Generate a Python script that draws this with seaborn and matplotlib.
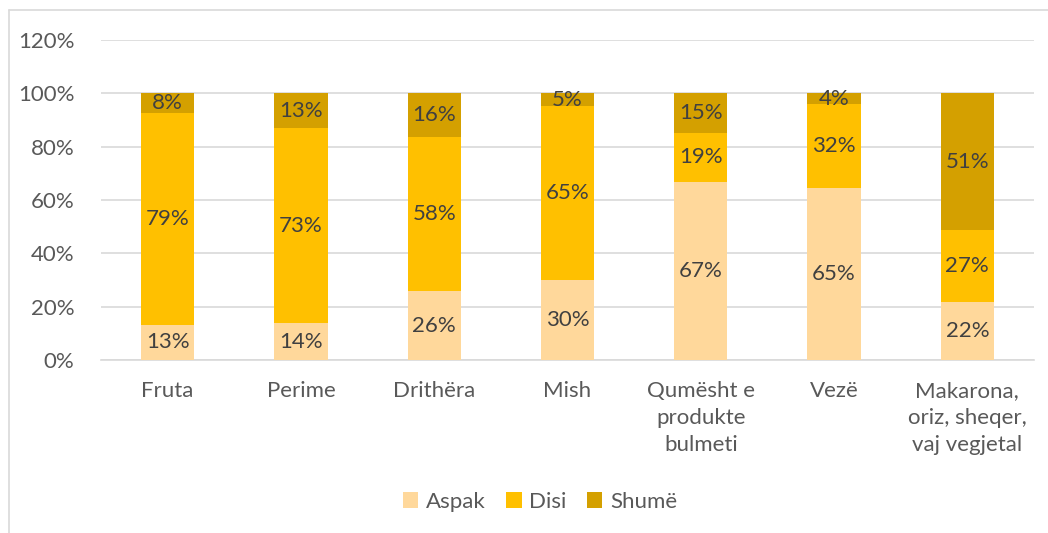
import matplotlib
matplotlib.use("Agg")
import matplotlib.pyplot as plt
import matplotlib.ticker as mticker
from matplotlib.lines import Line2D
from matplotlib.patches import Patch
import numpy as np
import pandas as pd
import seaborn as sns

# Data (percent)
categories = ["Fruta", "Perime", "Drithëra", "Mish",
              "Qumësht e\nprodukte\nbulmeti", "Vezë",
              "Makarona,\noriz, sheqer,\nvaj vegjetal"]
aspak = [13.2, 13.8, 25.7, 30.1, 66.7, 64.6, 21.9]
disi = [79.3, 73.1, 57.9, 65.2, 18.6, 31.5, 26.8]
shume = [7.5, 13.1, 16.4, 4.7, 14.7, 3.9, 51.3]
series_names = ["Aspak", "Disi", "Shumë"]
colors = ["#FFD89B", "#FFC000", "#D4A000"]

df = pd.DataFrame({"cat": categories, "Aspak": aspak, "Disi": disi, "Shumë": shume})
df["c1"] = df["Aspak"]
df["c2"] = df["Aspak"] + df["Disi"]
df["c3"] = df["c2"] + df["Shumë"]

sns.set_theme(style="white")
plt.rcParams["font.family"] = ["Lato", "DejaVu Sans"]
FS = 16

fig = plt.figure(figsize=(10.48, 5.33), dpi=100)
ax = fig.add_axes([101 / 1048, (533 - 360) / 533, 933 / 1048, 320 / 533])

# stacked bars: draw cumulative totals from the top down
for col, color in zip(["c3", "c2", "c1"], colors[::-1]):
    sns.barplot(data=df, x="cat", y=col, color=color, width=0.4,
                saturation=1, ax=ax, zorder=3, linewidth=0)

# data labels
for i, row in df.iterrows():
    bottoms = [0, row["c1"], row["c2"]]
    for val, b in zip([row["Aspak"], row["Disi"], row["Shumë"]], bottoms):
        ax.text(i, b + val / 2, f"{round(val)}%", ha="center", va="center",
                fontsize=FS, color="#404040", zorder=5)

ax.set_ylim(0, 120)
ax.set_xlim(-0.5, 6.5)
ax.yaxis.set_major_locator(mticker.MultipleLocator(20))
ax.yaxis.set_major_formatter(mticker.FuncFormatter(lambda v, _: f"{v:.0f}%"))
ax.grid(axis="y", color="#D9D9D9", linewidth=1.2, zorder=0)
for s in ["top", "right", "left"]:
    ax.spines[s].set_visible(False)
ax.spines["bottom"].set_color("#D9D9D9")
ax.spines["bottom"].set_linewidth(1.2)
ax.set_xlabel("")
ax.set_ylabel("")
ax.tick_params(axis="y", labelsize=FS, labelcolor="#595959", length=0, pad=19)
ax.tick_params(axis="x", labelsize=FS, labelcolor="#595959", length=0, pad=15)
ax.set_xticks(range(len(categories)))
ax.set_xticklabels(categories, va="top", linespacing=1.45)

handles = [Patch(facecolor=c, edgecolor="none") for c in colors]
fig.legend(handles, series_names, loc="center", bbox_to_anchor=(540 / 1048, 1 - 502 / 533),
           ncol=3, frameon=False, fontsize=FS, handlelength=0.7, handleheight=0.7,
           handletextpad=0.35, columnspacing=0.9, labelcolor="#595959")

# chart frame (left and top edges)
fig.add_artist(Line2D([9 / 1048, 9 / 1048], [0, 1 - 10 / 533], color="#D9D9D9", linewidth=1.2))
fig.add_artist(Line2D([9 / 1048, 1], [1 - 10 / 533, 1 - 10 / 533], color="#D9D9D9", linewidth=1.2))

fig.savefig("out.png", dpi=100)
